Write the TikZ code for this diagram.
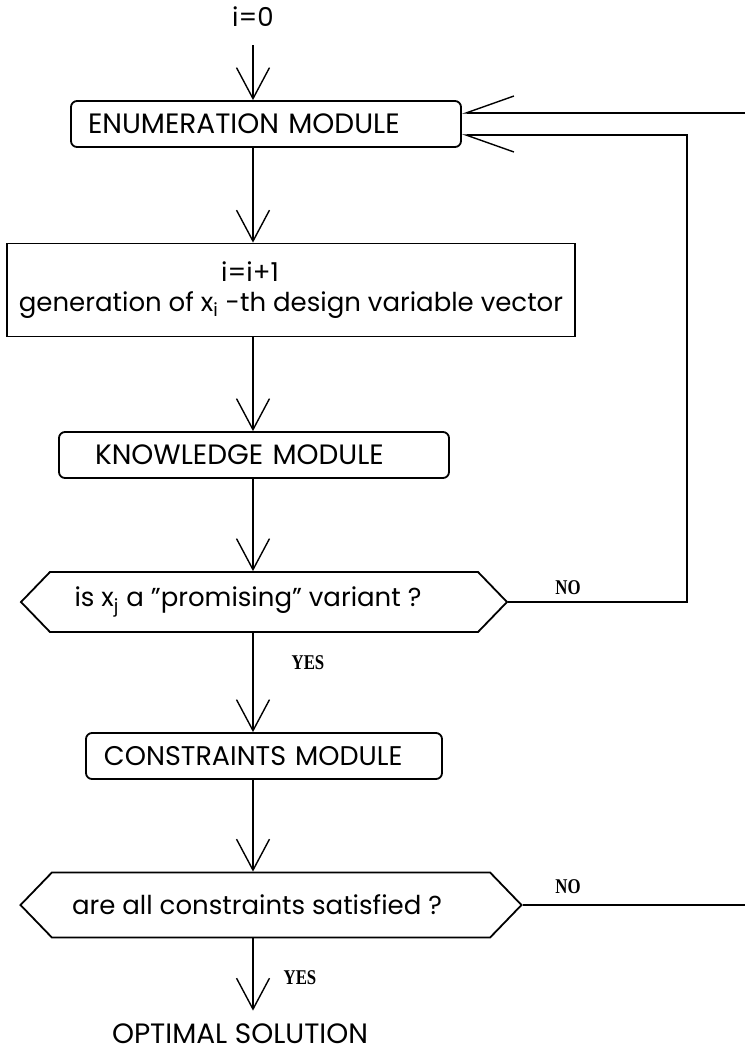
\documentclass[tikz,border=0pt]{standalone}
\usepackage{fontspec}
\setmainfont{Poppins}
\newfontfamily\yesno[FakeStretch=0.8]{Liberation Serif}
\usetikzlibrary{arrows.meta,shapes.symbols}

\begin{document}
\begin{tikzpicture}[x=0.5pt, y=-0.5pt,
  font=\fontsize{13}{15}\selectfont,
  module/.style = {draw, line width=0.9pt, rounded corners=3pt, minimum height=23pt, align=left, inner xsep=8.5pt, font=\fontsize{14}{16}\selectfont},
  block/.style = {draw, line width=0.9pt, align=center},
  test/.style = {draw, line width=0.9pt, signal, signal to=west and east, signal pointer angle=92, inner xsep=0pt},
  answer/.style = {font=\yesno\bfseries\fontsize{10.5}{12}\selectfont},
  arr/.style = {line width=0.7pt, -{Straight Barb[length=15.5pt,width=16.5pt]}},
  back/.style = {line width=0.7pt, -{Straight Barb[length=24pt,width=17pt,harpoon]}},
  backtop/.style = {line width=0.7pt, -{Straight Barb[length=24pt,width=17pt,harpoon,swap]}}]
\useasboundingbox (0,0) rectangle (745,1057);
\node[inner ysep=9pt] (start) at (253,17) {i=0};
\node[module, minimum width=195pt, text width=178pt] (enum) at (266,124) {ENUMERATION MODULE};
\node[block, minimum width=284pt, minimum height=46.5pt] (gen) at (291,290) {i=i+1\hspace*{41pt}\\generation of x\textsubscript{i} -th design variable vector};
\node[module, minimum width=195pt, text width=159pt, inner xsep=18pt] (know) at (254,455) {KNOWLEDGE MODULE};
\node[test, minimum width=243pt, minimum height=30pt] (test1) at (264,602) {is x\textsubscript{j} a "promising" variant ?\hspace*{16pt}};
\node[module, minimum width=178pt, text width=160pt, font=\fontsize{13.5}{16}\selectfont] (constr) at (264,756) {CONSTRAINTS MODULE};
\node[test, minimum width=250.5pt, minimum height=32.5pt] (test2) at (271,905) {are all constraints satisfied ?\hspace*{14pt}};
\node[inner ysep=6.5pt, font=\fontsize{14}{16}\selectfont] (opt) at (240,1034) {OPTIMAL SOLUTION};
\node[answer] (no1) at (568,588) {NO};
\node[answer] (yes1) at (308,663) {YES};
\node[answer] (no2) at (568,887) {NO};
\node[answer] (yes2) at (300,978) {YES};
\coordinate (loop) at (687,135);
\coordinate (in) at (745,113);
\coordinate (out) at (745,905);
\draw[arr] (start) -- (start |- enum.north);
\draw[arr] (enum.south -| start) -- (gen.north -| start);
\draw[arr] (gen.south -| start) -- (know.north -| start);
\draw[arr] (know.south -| start) -- (test1.north -| start);
\draw[arr] (test1.south -| start) -- (constr.north -| start);
\draw[arr] (constr.south -| start) -- (test2.north -| start);
\draw[arr] (test2.south -| start) -- (opt.north -| start);
\draw[back] (test1.east) -| (loop) -- (enum.east |- loop);
\draw[line width=0.7pt] (test2.east) -- (out);
\draw[backtop] (in) -- (enum.east |- in);
\end{tikzpicture}
\end{document}
